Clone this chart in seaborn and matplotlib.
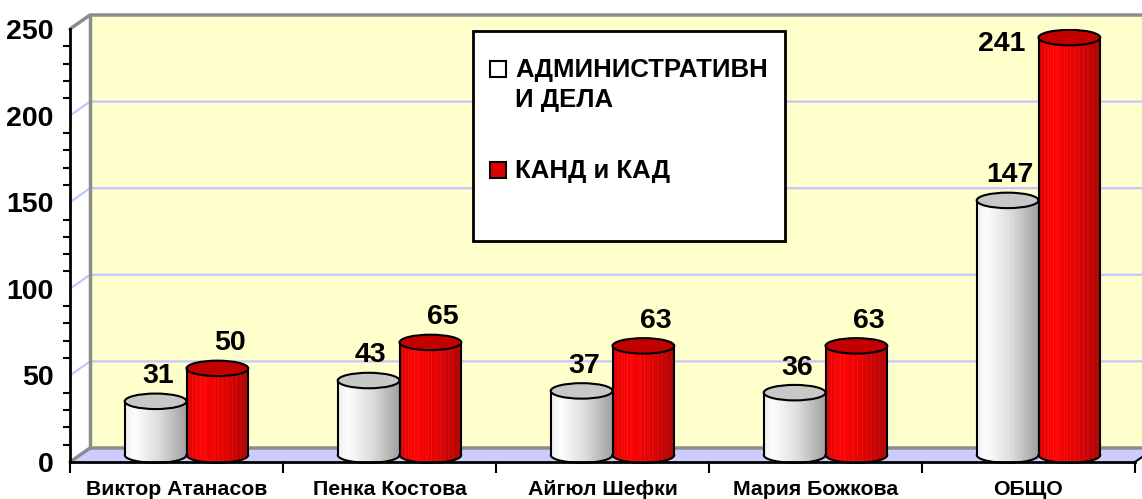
import numpy as np
import pandas as pd
import seaborn as sns
import matplotlib.pyplot as plt
from matplotlib.patches import Polygon, Ellipse, Rectangle, PathPatch
from matplotlib.path import Path
from matplotlib.ticker import MultipleLocator, FixedLocator

# data
categories = ['Виктор Атанасов', 'Пенка Костова', 'Айгюл Шефки', 'Мария Божкова', 'ОБЩО']
series = ['АДМИНИСТРАТИВН\nИ ДЕЛА', 'КАНД и КАД']
admin_values = [31, 43, 37, 36, 147]
kand_values = [50, 65, 63, 63, 241]
y_ticks = [0, 50, 100, 150, 200, 250]

df = pd.DataFrame({
    'category': categories * 2,
    'series': [series[0]] * len(categories) + [series[1]] * len(categories),
    'value': admin_values + kand_values,
})

sns.set_style('white')
plt.rcParams['font.family'] = ['Liberation Sans', 'DejaVu Sans']
plt.rcParams['font.weight'] = 'bold'
plt.rcParams['text.color'] = 'black'
plt.rcParams['xtick.color'] = 'black'
plt.rcParams['ytick.color'] = 'black'
plt.rcParams['xtick.labelcolor'] = 'black'
plt.rcParams['ytick.labelcolor'] = 'black'

W, H = 1142, 499
fig = plt.figure(figsize=(W / 100, H / 100), dpi=100)
L, R, T, B = 70, 1135, 29, 462
ax = fig.add_axes([L / W, 1 - B / H, (R - L) / W, (B - T) / H])
ax.patch.set_visible(False)

sns.barplot(data=df, x='category', y='value', hue='series',
            palette=['#e8e8e8', '#e00000'], width=0.58, ax=ax,
            legend=False, errorbar=None)

# pixel -> data conversion (fixed figure size)
xu = (R - L) / len(categories)
yu = (B - T) / 250.0
wdx, wdy = 20 / xu, 14 / yu      # back wall depth
cdx, cdy = 10 / xu, 7 / yu       # cylinders sit in the middle
eh = 15.5 / yu                    # ellipse height
x_lo, x_hi = -0.5, len(categories) - 0.5

# back wall, floor, grid
ax.add_patch(Polygon([(x_lo + wdx, wdy), (x_lo + wdx, 250 + wdy), (x_hi + wdx + 1, 250 + wdy), (x_hi + wdx + 1, wdy)],
                     facecolor='#ffffcc', edgecolor='none', zorder=0, clip_on=False))
ax.add_patch(Polygon([(x_lo, 0), (x_hi, 0), (x_hi + wdx, wdy), (x_lo + wdx, wdy)],
                     facecolor='#ccccff', edgecolor='none', zorder=0.5, clip_on=False))
for v in y_ticks[1:-1]:
    ax.plot([x_lo, x_lo + wdx, x_hi + wdx + 1], [v, v + wdy, v + wdy], color='#c4c4ff', lw=1.6, zorder=0.6, clip_on=False)
grey = '#8c8c8c'
ax.plot([x_lo, x_lo + wdx, x_hi + wdx + 1], [250, 250 + wdy, 250 + wdy], color=grey, lw=2.5, zorder=0.7, clip_on=False)
ax.plot([x_lo, x_lo + wdx, x_hi + wdx + 1], [0, wdy, wdy], color=grey, lw=2.5, zorder=0.7, clip_on=False)
ax.plot([x_lo + wdx, x_lo + wdx], [wdy, 250 + wdy], color=grey, lw=2.5, zorder=0.7, clip_on=False)
ax.plot([x_hi, x_hi + wdx], [0, wdy], color='black', lw=1.5, zorder=0.7, clip_on=False)

# cylinder shading
n = 240
t = np.linspace(0, 1, n)
stripes = (np.arange(n) % 11 == 0) | (np.arange(n) % 17 == 3)
lum = np.interp(t, [0, 0.15, 0.55, 1], [0.93, 0.99, 0.86, 0.62])
lum = np.where(stripes, np.minimum(lum + 0.04, 1), lum)
white_grad = np.stack([lum, lum, lum], axis=-1)
rr = np.interp(t, [0, 0.25, 0.6, 1], [0.86, 1.0, 0.88, 0.68])
gb = np.where(stripes, 0.22 * rr, 0.0)
red_grad = np.stack([np.minimum(rr + gb * 0.3, 1), gb, gb], axis=-1)
grads = [white_grad, red_grad]
tops = ['#c8c8c8', '#c20000']

for si, cont in enumerate(ax.containers):
    z = 3 + si
    for bar in cont:
        bar.set_visible(False)
        w = bar.get_width()
        v = bar.get_height()
        x0 = bar.get_x() + cdx
        x1 = x0 + w
        xc = (x0 + x1) / 2
        yb, yt = cdy, v + cdy
        a = np.linspace(np.pi, 2 * np.pi, 60)
        ex = xc + w / 2 * np.cos(a)
        ey = yb + eh / 2 * np.sin(a)
        verts = [(x0, yt)] + list(zip(ex, ey)) + [(x1, yt), (x0, yt)]
        body = PathPatch(Path(verts), facecolor='none', edgecolor='none', zorder=z)
        ax.add_patch(body)
        img = np.tile(grads[si][None, :, :], (2, 1, 1))
        im = ax.imshow(img, extent=(x0, x1, yb - eh / 2, yt), aspect='auto', zorder=z, interpolation='bilinear')
        im.set_clip_path(body)
        ax.plot(list(ex), list(ey), color='black', lw=1.5, zorder=z + 0.1, clip_on=False)
        ax.plot([x0, x0], [yb, yt], color='black', lw=1.5, zorder=z + 0.1)
        ax.plot([x1, x1], [yb, yt], color='black', lw=1.5, zorder=z + 0.1)
        ax.add_patch(Ellipse((xc, yt), w, eh, facecolor=tops[si], edgecolor='black', lw=1.5, zorder=z + 0.2))
        # value label
        if v + 18.5 > 245:
            lx, ly = xc - 0.32, v + 0.5
        else:
            lx, ly = xc + (0.01 if si == 0 else 0.06), v + 18.5
        ax.text(lx, ly, f'{int(v)}', ha='center', va='center', fontsize=20.5, fontweight='bold',
                color='black', zorder=8)

ax.set_xlim(x_lo, x_hi)
ax.set_ylim(0, 250)
ax.set_yticks(y_ticks)
ax.yaxis.set_minor_locator(MultipleLocator(10))
ax.xaxis.set_minor_locator(FixedLocator(np.arange(x_lo, x_hi + 0.1, 1)))
ax.set_xlabel('')
ax.set_ylabel('')
ax.tick_params(axis='y', which='major', length=10, width=2, direction='out', pad=2, labelsize=20.5, color='black')
ax.tick_params(axis='y', which='minor', length=5, width=1.5, direction='out', color='black', left=True)
ax.tick_params(axis='x', which='major', length=0, pad=13, labelsize=15.3)
ax.tick_params(axis='x', which='minor', length=8, width=1.5, direction='out', color='black', bottom=True)
for lab in ax.get_xticklabels() + ax.get_yticklabels():
    lab.set_fontweight('bold')
    lab.set_color('black')
for s in ['top', 'right']:
    ax.spines[s].set_visible(False)
for s in ['left', 'bottom']:
    ax.spines[s].set_color('black')
    ax.spines[s].set_linewidth(2)
    ax.spines[s].set_zorder(6)

# legend box
fig.add_artist(Rectangle((473 / W, 1 - 241 / H), (785 - 473) / W, (241 - 31) / H, transform=fig.transFigure,
                         facecolor='white', edgecolor='black', lw=2, zorder=10))
fig.add_artist(Rectangle((490 / W, 1 - 77 / H), 16 / W, 16 / H, transform=fig.transFigure,
                         facecolor='white', edgecolor='black', lw=1.5, zorder=11))
fig.add_artist(Rectangle((490 / W, 1 - 178 / H), 16 / W, 16 / H, transform=fig.transFigure,
                         facecolor='#e00000', edgecolor='black', lw=1.5, zorder=11))
fig.text(515 / W, 1 - 58 / H, series[0], ha='left', va='top', fontsize=18.5, fontweight='bold',
         linespacing=1.3, color='black', zorder=12)
fig.text(515 / W, 1 - 178 / H, series[1], ha='left', va='baseline', fontsize=18.5, fontweight='bold',
         color='black', zorder=12)

fig.savefig('out.png', dpi=100)
